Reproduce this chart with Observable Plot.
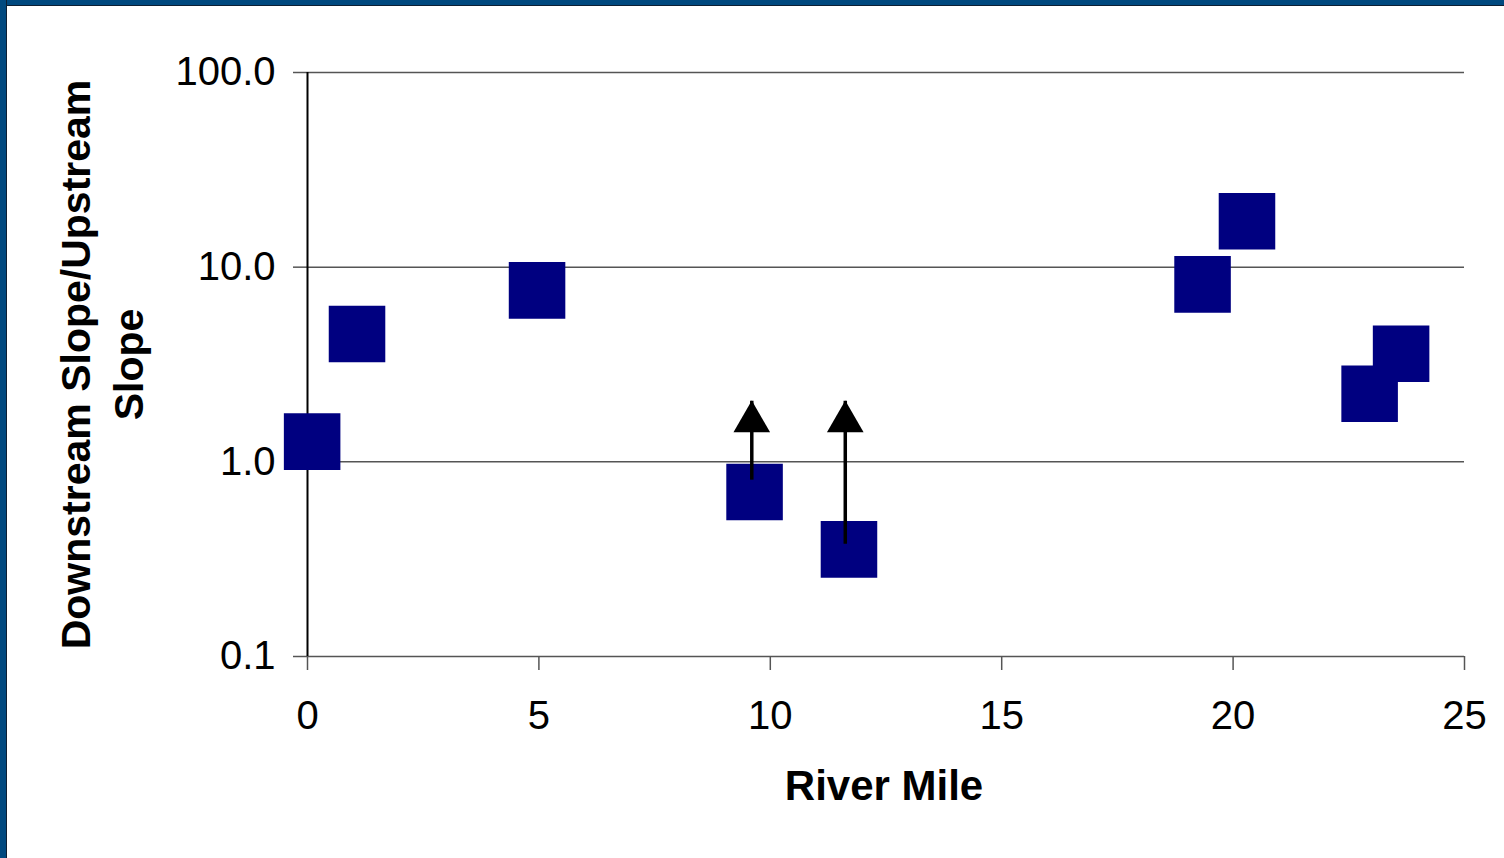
<!DOCTYPE html>
<html>
<head>
<meta charset="utf-8">
<script src="https://cdn.jsdelivr.net/npm/d3@7"></script>
<script src="https://cdn.jsdelivr.net/npm/@observablehq/plot@0.6"></script>
<style>
  html, body { margin: 0; padding: 0; background: #fff; }
  #wrap { position: relative; width: 1504px; height: 858px; overflow: hidden; background: #fff; }
  #chart { position: absolute; left: 0; top: 0; }
  .bar-top { position: absolute; left: 0; top: 0; width: 1504px; height: 5px; background: #00497f; border-bottom: 1px solid #0d1f33; }
  .bar-left { position: absolute; left: 0; top: 0; width: 6px; height: 858px; background: #00497f; border-right: 1px solid #0d1f33; }
</style>
</head>
<body>
<div id="wrap">
  <div id="chart"></div>
  <div class="bar-top"></div>
  <div class="bar-left"></div>
</div>
<script>
// Data
const riverMile  = [0.1, 1.07, 4.96, 9.66, 11.70, 19.34, 20.30, 22.95, 23.63];
const slopeRatio = [1.27, 4.54, 7.6, 0.70, 0.355, 8.16, 17.2, 2.24, 3.59];
// Arrows (lower bounds): start value and tip value
const arrowMile = [9.6, 11.62];
const arrowFrom = [0.81, 0.38];
const arrowTo   = [2.06, 2.06];
const xTicks = [0, 5, 10, 15, 20, 25];
const yTicks = [0.1, 1, 10, 100];
const gridValues = [1, 10, 100];
const xTitle = "River Mile";
const yTitle = "Downstream Slope/Upstream\nSlope";

const points = riverMile.map((m, i) => ({mile: m, ratio: slopeRatio[i]}));
const arrows = arrowMile.map((m, i) => ({mile: m, from: arrowFrom[i], to: arrowTo[i]}));

const font = "Liberation Sans, Arial, Helvetica, sans-serif";

const chart = Plot.plot({
  width: 1504,
  height: 858,
  marginLeft: 307,
  marginRight: 40,
  marginTop: 72,
  marginBottom: 202,
  style: {fontFamily: font, color: "#000", background: "#fff", overflow: "visible"},
  x: {type: "linear", domain: [0, 25]},
  y: {type: "log", domain: [0.1, 100]},
  marks: [
    Plot.ruleY(gridValues, {stroke: "#555", strokeWidth: 1.5}),
    Plot.ruleY([0.1], {stroke: "#555", strokeWidth: 1.5}),
    Plot.axisX({ticks: xTicks, tickSize: 14, tickPadding: 30, fontSize: 40, stroke: "#555", strokeWidth: 1.5, label: null, tickFormat: d3.format("d")}),
    Plot.axisY({ticks: yTicks, tickSize: 14, tickPadding: 18, fontSize: 40, stroke: "#555", strokeWidth: 1.5, label: null, tickFormat: d3.format(".1f")}),
    Plot.ruleX([0], {stroke: "#000", strokeWidth: 2}),
    Plot.dot(points, {x: "mile", y: "ratio", symbol: "square", r: 31.9, fill: "#000080", stroke: "none"}),
    Plot.link(arrows, {x1: "mile", x2: "mile", y1: "from", y2: "to", stroke: "#000", strokeWidth: 3.5, strokeLinecap: "butt"}),
    Plot.dot(arrows, {x: "mile", y: "to", symbol: "triangle", r: 13.6, fill: "#000", stroke: "none", dy: 21}),
    Plot.text([xTitle], {frameAnchor: "bottom", dy: 130, fontSize: 42, fontWeight: "bold", fill: "#000", lineAnchor: "middle", dx: -2}),
    Plot.text([yTitle], {frameAnchor: "left", dx: -208, rotate: -90, fontSize: 41, fontWeight: "bold", fill: "#000", lineAnchor: "middle", lineHeight: 1.3, textAnchor: "middle"})
  ]
});
document.getElementById("chart").appendChild(chart);
</script>
</body>
</html>
